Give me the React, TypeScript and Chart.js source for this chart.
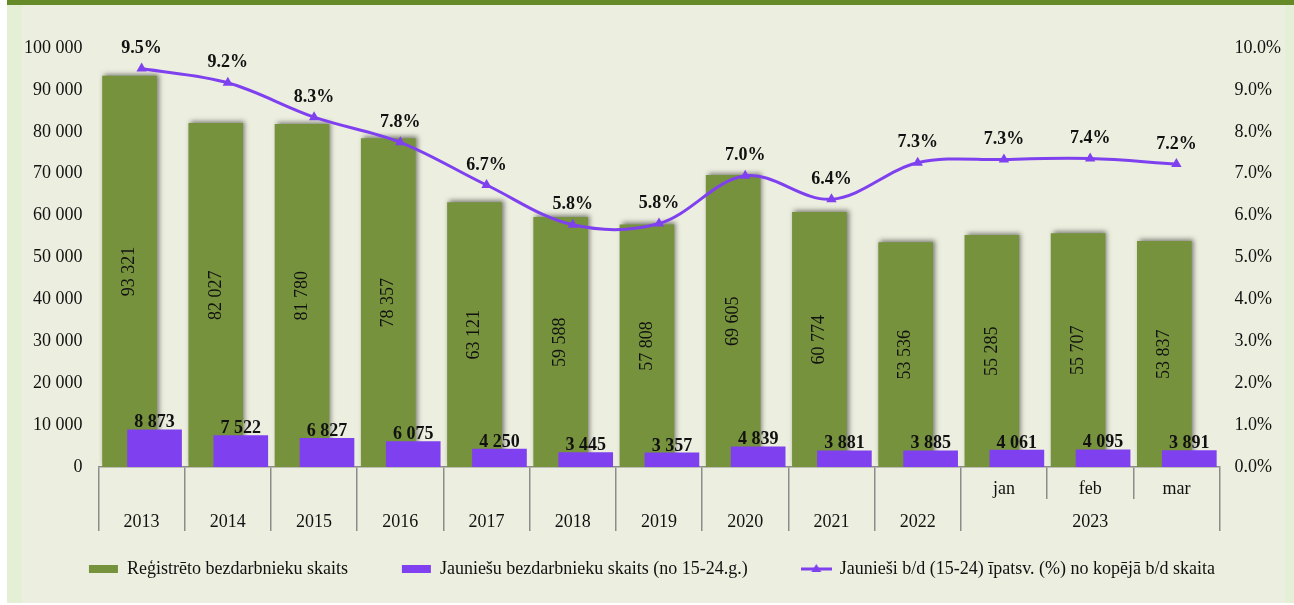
import React, { useEffect, useRef } from 'react';
import { Chart, registerables } from 'chart.js';

Chart.register(...registerables);

// ---- data ----
const categories = ['2013', '2014', '2015', '2016', '2017', '2018', '2019', '2020', '2021', '2022', '2023 jan', '2023 feb', '2023 mar'];
const monthLabels = ['', '', '', '', '', '', '', '', '', '', 'jan', 'feb', 'mar'];
const yearLabels = ['2013', '2014', '2015', '2016', '2017', '2018', '2019', '2020', '2021', '2022', '', '2023', ''];
const registered = [93321, 82027, 81780, 78357, 63121, 59588, 57808, 69605, 60774, 53536, 55285, 55707, 53837];
const youth = [8873, 7522, 6827, 6075, 4250, 3445, 3357, 4839, 3881, 3885, 4061, 4095, 3891];
const youthShare = [9.51, 9.17, 8.35, 7.75, 6.73, 5.78, 5.81, 6.95, 6.39, 7.26, 7.34, 7.36, 7.23];

const seriesNames = [
  'Reģistrēto bezdarbnieku skaits',
  'Jauniešu bezdarbnieku skaits (no 15-24.g.)',
  'Jaunieši b/d (15-24) īpatsv. (%) no kopējā b/d skaita',
];

// ---- style ----
const FONT = '"Liberation Serif", "Times New Roman", serif';
const GREEN = '#76923C';
const PURPLE = '#7F41EF';
const AXIS_GRAY = '#8C8C8C';
const TEXT = '#111111';
const GREEN_SHIFT = -0.14; // bar offset within its category (category units)
const PURPLE_SHIFT = 0.15;
const LEGEND_GAP = '\u00A0\u00A0\u00A0\u00A0\u00A0\u00A0';

const fmtThousands = (v: number) => String(Math.round(v)).replace(/\B(?=(\d{3})+(?!\d))/g, ' ');

// legend glyph for the line series: a line with a triangle marker
function makeLineMarkerGlyph(): HTMLCanvasElement {
  const c = document.createElement('canvas');
  c.width = 31;
  c.height = 14;
  const g = c.getContext('2d') as CanvasRenderingContext2D;
  g.strokeStyle = PURPLE;
  g.fillStyle = PURPLE;
  g.lineWidth = 3;
  g.beginPath();
  g.moveTo(0, 7);
  g.lineTo(31, 7);
  g.stroke();
  g.beginPath();
  g.moveTo(15.5, 2);
  g.lineTo(20.5, 10);
  g.lineTo(10.5, 10);
  g.closePath();
  g.fill();
  return c;
}

const shadowPlugin = {
  id: 'barShadow',
  beforeDatasetDraw(chart: any, args: any) {
    if (args.index !== 0) return;
    const ctx = chart.ctx;
    ctx.save();
    ctx.shadowColor = 'rgba(0,0,0,0.5)';
    ctx.shadowBlur = 5;
    ctx.shadowOffsetX = 2;
    ctx.shadowOffsetY = -2;
  },
  afterDatasetDraw(chart: any, args: any) {
    if (args.index !== 0) return;
    chart.ctx.restore();
  },
};

const valueLabelPlugin = {
  id: 'valueLabels',
  afterDatasetsDraw(chart: any) {
    const ctx = chart.ctx;
    ctx.save();
    ctx.textAlign = 'center';
    ctx.textBaseline = 'middle';
    ctx.fillStyle = TEXT;

    // green: rotated, centred in bar
    ctx.font = `18px ${FONT}`;
    const g = chart.getDatasetMeta(0);
    g.data.forEach((bar: any, i: number) => {
      const { x, y, base } = bar.getProps(['x', 'y', 'base'], true);
      ctx.save();
      ctx.translate(x, (y + base) / 2);
      ctx.rotate(-Math.PI / 2);
      ctx.fillText(fmtThousands(registered[i]), 0, 0);
      ctx.restore();
    });

    // purple: bold above bar
    ctx.font = `bold 18px ${FONT}`;
    const p = chart.getDatasetMeta(1);
    p.data.forEach((bar: any, i: number) => {
      const { x, y } = bar.getProps(['x', 'y'], true);
      ctx.fillText(fmtThousands(youth[i]), x, y - 7);
    });

    // line: bold percentages above points
    const l = chart.getDatasetMeta(2);
    l.data.forEach((pt: any, i: number) => {
      const { x, y } = pt.getProps(['x', 'y'], true);
      ctx.fillText(youthShare[i].toFixed(1) + '%', x, y - 20);
    });
    ctx.restore();
  },
};

export default function App() {
  const ref = useRef<HTMLCanvasElement>(null);

  useEffect(() => {
    const tickFont = { family: FONT, size: 18, lineHeight: 20 / 18 };
    const lineGlyph = makeLineMarkerGlyph();
    const chart = new Chart(ref.current as HTMLCanvasElement, {
      type: 'bar',
      data: {
        labels: categories,
        datasets: [
          {
            type: 'bar',
            label: seriesNames[0] + LEGEND_GAP,
            data: registered.map((v, i) => ({ x: i, y: v })),
            backgroundColor: GREEN,
            borderWidth: 0,
            barThickness: 54,
            grouped: false,
            xAxisID: 'xg',
            yAxisID: 'y',
            order: 2,
          },
          {
            type: 'bar',
            label: seriesNames[1] + LEGEND_GAP,
            data: youth.map((v, i) => ({ x: i, y: v })),
            backgroundColor: PURPLE,
            borderWidth: 0,
            barThickness: 54,
            grouped: false,
            xAxisID: 'xp',
            yAxisID: 'y',
            order: 1,
          },
          {
            type: 'line',
            label: seriesNames[2],
            data: youthShare,
            borderColor: PURPLE,
            backgroundColor: PURPLE,
            borderWidth: 3,
            pointStyle: 'triangle',
            pointRadius: 6,
            pointBorderWidth: 0,
            tension: 0.35,
            xAxisID: 'x',
            yAxisID: 'y1',
            order: 0,
          },
        ] as any,
      },
      options: {
        responsive: false,
        maintainAspectRatio: false,
        animation: false,
        devicePixelRatio: 1,
        layout: { padding: { left: 8, right: -2, top: 48, bottom: 17 } },
        plugins: {
          tooltip: { enabled: false },
          legend: {
            position: 'bottom',
            labels: {
              font: { family: FONT, size: 18 },
              color: TEXT,
              usePointStyle: true,
              pointStyleWidth: 29,
              boxHeight: 8,
              padding: 27,
              sort: (a: any, b: any) => a.datasetIndex - b.datasetIndex,
              generateLabels(c: any) {
                const items = (Chart.defaults.plugins.legend.labels as any).generateLabels(c);
                return items.map((it: any) => {
                  const ds = c.data.datasets[it.datasetIndex];
                  if (ds.type === 'line') {
                    return { ...it, pointStyle: lineGlyph, lineWidth: 0 };
                  }
                  return { ...it, pointStyle: 'rect', lineWidth: 0 };
                });
              },
            },
          },
        },
        scales: {
          xg: {
            type: 'linear',
            display: false,
            offset: false,
            min: -0.5 - GREEN_SHIFT,
            max: categories.length - 0.5 - GREEN_SHIFT,
          },
          xp: {
            type: 'linear',
            display: false,
            offset: false,
            min: -0.5 - PURPLE_SHIFT,
            max: categories.length - 0.5 - PURPLE_SHIFT,
          },
          x: {
            type: 'category',
            position: 'bottom',
            weight: 0,
            labels: monthLabels.map((m) => [m, '']),
            offset: true,
            grid: {
              display: true,
              offset: true,
              drawOnChartArea: false,
              drawTicks: true,
              tickLength: 32,
              color: AXIS_GRAY,
              tickColor: AXIS_GRAY,
              lineWidth: 1.5,
            },
            border: { display: true, color: AXIS_GRAY, width: 1.5 },
            ticks: {
              font: tickFont,
              color: TEXT,
              padding: -20,
              autoSkip: false,
              maxRotation: 0,
              minRotation: 0,
            },
          },
          xb: {
            type: 'category',
            position: 'bottom',
            weight: 1,
            labels: yearLabels.map((y) => [y, '']),
            offset: true,
            grid: {
              display: true,
              offset: true,
              drawOnChartArea: false,
              drawTicks: true,
              tickLength: 32,
              color: (ctx: any) => (ctx.index === 11 || ctx.index === 12 ? 'rgba(0,0,0,0)' : AXIS_GRAY),
              tickColor: (ctx: any) => (ctx.index === 11 || ctx.index === 12 ? 'rgba(0,0,0,0)' : AXIS_GRAY),
              lineWidth: 1.5,
            },
            border: { display: false },
            ticks: {
              font: tickFont,
              color: TEXT,
              padding: -19,
              autoSkip: false,
              maxRotation: 0,
              minRotation: 0,
            },
          },
          y: {
            type: 'linear',
            position: 'left',
            min: 0,
            max: 100000,
            grid: { display: false, drawTicks: false },
            border: { display: false },
            ticks: {
              stepSize: 10000,
              font: { family: FONT, size: 18 },
              color: TEXT,
              padding: 16,
              callback: (v: any) => fmtThousands(Number(v)),
            },
          },
          y1: {
            type: 'linear',
            position: 'right',
            min: 0,
            max: 10,
            grid: { display: false, drawTicks: false },
            border: { display: false },
            ticks: {
              stepSize: 1,
              font: { family: FONT, size: 18 },
              color: TEXT,
              padding: 15,
              callback: (v: any) => Number(v).toFixed(1) + '%',
            },
          },
        } as any,
      },
      plugins: [shadowPlugin, valueLabelPlugin],
    } as any);
    return () => chart.destroy();
  }, []);

  return (
    <div style={{ position: 'fixed', left: 0, top: 0, width: 1294, height: 605, background: '#ffffff', overflow: 'hidden' }}>
      <div style={{ position: 'absolute', left: 7, top: 0, width: 1287, height: 603, background: '#E5EFD6' }} />
      <div style={{ position: 'absolute', left: 22, top: 5, width: 1263, height: 598, background: '#ECEEDF' }} />
      <div style={{ position: 'absolute', left: 7, top: 0, width: 1287, height: 5, background: '#678A29' }} />
      <canvas
        ref={ref}
        width={1294}
        height={605}
        style={{ position: 'absolute', left: 0, top: 0, width: 1294, height: 605 }}
      />
    </div>
  );
}
